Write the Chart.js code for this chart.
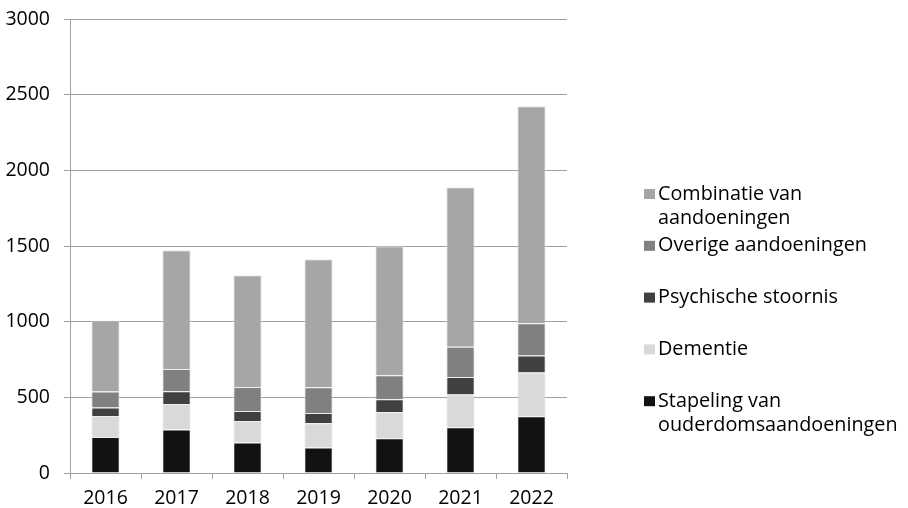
<!DOCTYPE html>
<html>
<head>
<meta charset="utf-8">
<script src="https://cdn.jsdelivr.net/npm/chart.js@4/dist/chart.umd.min.js"></script>
<style>
  body { margin: 0; background: #fff; }
  #box { width: 908px; height: 508px; }
</style>
</head>
<body>
<div id="box"><canvas id="myChart" width="908" height="508"></canvas></div>
<script>
var jaren = ["2016", "2017", "2018", "2019", "2020", "2021", "2022"];
var stapeling = [238, 287, 201, 168, 229, 302, 375];
var dementie = [139, 169, 143, 160, 172, 216, 289];
var psychisch = [55, 84, 66, 69, 86, 117, 112];
var overige = [106, 147, 158, 169, 159, 200, 213];
var combinatie = [470, 785, 739, 847, 852, 1053, 1434];
var namen = ["Stapeling van ouderdomsaandoeningen", "Dementie", "Psychische stoornis", "Overige aandoeningen", "Combinatie van aandoeningen"];
var yTicks = [0, 500, 1000, 1500, 2000, 2500, 3000];

var kleuren = ["#121212", "#d9d9d9", "#404040", "#808080", "#a6a6a6"];
var fontNaam = "'Open Sans', sans-serif";

var legenda = {
    id: "legenda",
    afterDraw: function(chart, args, opts){
        var ctx = chart.ctx;
        var sets = chart.data.datasets.slice().reverse();
        ctx.save();
        ctx.font = opts.size + "px " + fontNaam;
        ctx.textBaseline = "middle";
        ctx.fillStyle = "#000";
        sets.forEach(function(ds, i){
            var y = opts.top + i * opts.step;
            ctx.fillStyle = ds.backgroundColor;
            ctx.fillRect(opts.x, y - 5, 11, 10);
            ctx.fillStyle = "#000";
            // simpel woord voor woord afbreken
            var woorden = ds.label.split(" ");
            var regels = [];
            var regel = "";
            woorden.forEach(function(w){
                var test = regel ? regel + " " + w : w;
                if(regel && ctx.measureText(test).width > opts.maxWidth){
                    regels.push(regel);
                    regel = w;
                } else {
                    regel = test;
                }
            });
            regels.push(regel);
            regels.forEach(function(r, j){
                ctx.fillText(r, opts.x + 14, y + j * opts.lineHeight);
            });
        });
        ctx.restore();
    }
};

var series = [stapeling, dementie, psychisch, overige, combinatie];
var datasets = series.map(function(s, i){
    return {
        label: namen[i],
        data: s,
        backgroundColor: kleuren[i],
        borderColor: "rgba(230,230,230,0.7)",
        borderWidth: 1,
        categoryPercentage: 1,
        barPercentage: 0.4
    };
});

var ctx = document.getElementById("myChart").getContext("2d");
var myChart = new Chart(ctx, {
    type: "bar",
    data: { labels: jaren, datasets: datasets },
    plugins: [legenda],
    options: {
        responsive: false,
        animation: false,
        layout: { padding: { left: 0, right: 341, top: 19, bottom: 0 } },
        plugins: {
            legend: { display: false },
            tooltip: { enabled: false },
            legenda: { x: 644, top: 194, step: 51.8, lineHeight: 24, size: 19.8, maxWidth: 252 }
        },
        scales: {
            x: {
                stacked: true,
                grid: { drawOnChartArea: false, offset: true, tickLength: 6, color: "#a0a0a0" },
                border: { color: "#a0a0a0" },
                ticks: { color: "#000", padding: 8, font: { family: fontNaam, size: 19.5 } },
                afterFit: function(scale){ scale.height = 35; }
            },
            y: {
                stacked: true,
                min: 0,
                max: 3000,
                afterBuildTicks: function(scale){
                    scale.ticks = yTicks.map(function(v){ return { value: v }; });
                },
                grid: { color: "#a0a0a0", tickLength: 6 },
                border: { color: "#a0a0a0" },
                ticks: {
                    color: "#000", padding: 14, font: { family: fontNaam, size: 19.5 },
                    callback: function(v){ return String(v); }
                },
                afterFit: function(scale){
                    scale.width = 70;
                    scale.paddingTop = 0;
                    scale.paddingBottom = 0;
                }
            }
        }
    }
});
</script>
</body>
</html>
